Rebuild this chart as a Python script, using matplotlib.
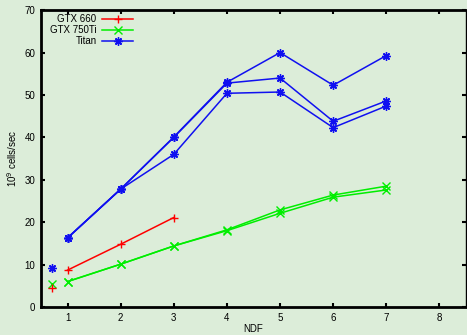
import matplotlib
matplotlib.use("Agg")
import matplotlib.pyplot as plt

plt.rcParams['font.family'] = ['Liberation Sans', 'DejaVu Sans']

ndf = [1, 2, 3, 4, 5, 6, 7]
gtx660_ndf = [1, 2, 3]
gtx660 = [8.7, 14.8, 21.1]
gtx750_a = [6.0, 10.1, 14.4, 18.2, 22.9, 26.4, 28.5]
gtx750_b = [6.0, 10.1, 14.4, 18.0, 22.1, 25.9, 27.6]
titan_a = [16.3, 27.8, 40.1, 53.0, 60.0, 52.3, 59.3]
titan_b = [16.3, 27.8, 40.0, 52.8, 54.0, 43.8, 48.6]
titan_c = [16.3, 27.8, 36.0, 50.4, 50.7, 42.3, 47.4]
single_x = 0.7
single_660 = 4.5
single_750 = 5.5
single_titan = 9.3

bg = '#dcedd9'
red = '#ff0000'
green = '#00ee00'
blue = '#1010f0'
star = (8, 2, 0)

fig = plt.figure(figsize=(4.67, 3.35), dpi=100, facecolor=bg)
ax = fig.add_axes([0.0878, 0.0836, 0.910, 0.886])
ax.set_facecolor(bg)

lw = 1.1
ms = 6
mw = 1.0
ax.plot(gtx660_ndf, gtx660, color=red, marker='+', lw=lw, ms=ms, mew=mw, label='GTX 660')
ax.plot(ndf, gtx750_a, color=green, marker='x', lw=lw, ms=ms, mew=mw, label='GTX 750Ti')
ax.plot(ndf, gtx750_b, color=green, marker='x', lw=lw, ms=ms, mew=mw)
ax.plot(ndf, titan_a, color=blue, marker=star, lw=lw, ms=ms, mew=mw, label='Titan')
ax.plot(ndf, titan_b, color=blue, marker=star, lw=lw, ms=ms, mew=mw)
ax.plot(ndf, titan_c, color=blue, marker=star, lw=lw, ms=ms, mew=mw)
ax.plot([single_x], [single_titan], color=blue, marker=star, ms=ms, mew=mw, ls='none')
ax.plot([single_x], [single_750], color=green, marker='x', ms=ms, mew=mw, ls='none')
ax.plot([single_x], [single_660], color=red, marker='+', ms=ms, mew=mw, ls='none')

ax.set_xlim(0.5, 8.5)
ax.set_ylim(0, 70)
ax.set_xticks(range(1, 9))
ax.set_yticks(range(0, 71, 10))
ax.tick_params(direction='in', length=3, width=1.5, labelsize=7, top=True, right=True, pad=4)
for s in ['left', 'bottom', 'top']:
    ax.spines[s].set_linewidth(2)
ax.spines['right'].set_linewidth(1)

ax.set_xlabel('NDF', fontsize=7, labelpad=1)
ax.set_ylabel('10$^{9}$ cells/sec', fontsize=7, labelpad=4)

leg = ax.legend(loc='upper left', bbox_to_anchor=(0.005, 1.01), frameon=False, markerfirst=False,
                fontsize=7, handlelength=3.2, labelspacing=0.12, handletextpad=0.6, borderaxespad=0.3)

fig.savefig('out.png', dpi=100, facecolor=bg)
